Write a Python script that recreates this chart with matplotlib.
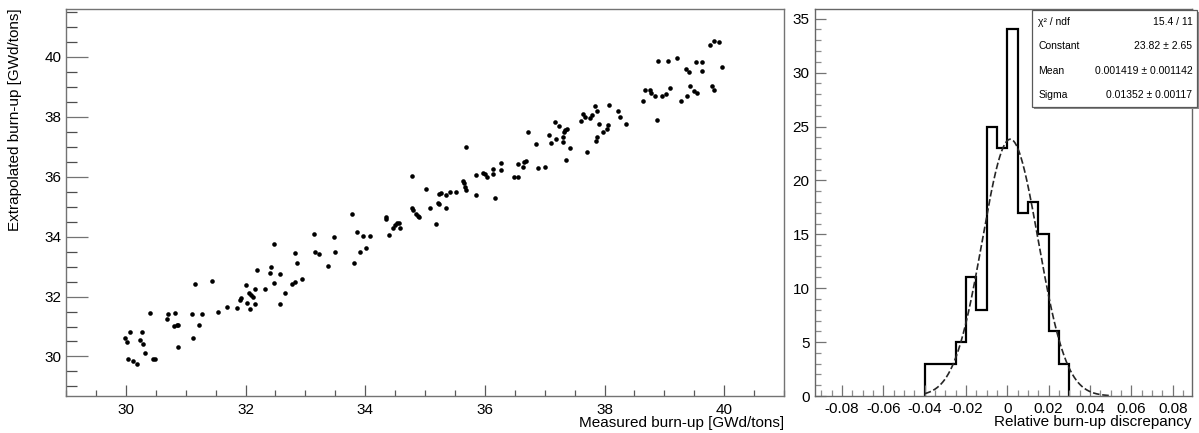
import numpy as np
import matplotlib
matplotlib.use("Agg")
import matplotlib.pyplot as plt
from matplotlib.ticker import MultipleLocator, FixedLocator
from matplotlib.patches import Rectangle

plt.rcParams['font.family'] = ['Liberation Sans', 'DejaVu Sans']

# ---------------- data ----------------
measured = [29.99, 30.02, 30.07, 30.04, 30.12, 30.19, 30.23, 30.27, 30.28, 30.32,
            30.45, 30.49, 30.41, 30.69, 30.70, 30.83, 30.80, 30.85, 30.88, 30.87,
            31.11, 31.12, 31.15, 31.22, 31.28, 31.44, 31.54, 31.69, 31.86, 31.91,
            31.93, 32.01, 32.03, 32.07, 32.06, 32.10, 32.12, 32.16, 32.16, 32.20,
            32.33, 32.41, 32.42, 32.48, 32.48, 32.57, 32.57, 32.66, 32.77, 32.83,
            32.82, 32.86, 32.94, 33.14, 33.16, 33.23, 33.38, 33.48, 33.49, 33.78,
            33.82, 33.86, 33.91, 33.97, 34.01, 34.08, 34.34, 34.34, 34.39, 34.47,
            34.50, 34.54, 34.57, 34.59, 34.78, 34.78, 34.80, 34.85, 34.88, 34.90,
            35.02, 35.09, 35.19, 35.22, 35.24, 35.24, 35.27, 35.35, 35.35, 35.41,
            35.51, 35.64, 35.66, 35.67, 35.68, 35.69, 35.85, 35.85, 35.97, 36.00,
            36.03, 36.14, 36.14, 36.17, 36.27, 36.27, 36.49, 36.56, 36.56, 36.63,
            36.66, 36.69, 36.72, 36.89, 37.00, 36.86, 37.07, 37.11, 37.18, 37.19,
            37.24, 37.30, 37.30, 37.32, 37.34, 37.37, 37.36, 37.42, 37.60, 37.64,
            37.67, 37.75, 37.79, 37.71, 37.84, 37.86, 37.88, 37.88, 37.91, 37.97,
            38.04, 38.06, 38.07, 38.23, 38.26, 38.36, 38.64, 38.67, 38.76, 38.77,
            38.85, 38.88, 38.89, 38.96, 39.02, 39.06, 39.09, 39.22, 39.28, 39.37,
            39.41, 39.38, 39.43, 39.49, 39.54, 39.53, 39.63, 39.63, 39.80, 39.83,
            39.76, 39.83, 39.92, 39.96]
extrapolated = [30.63, 30.47, 30.81, 29.93, 29.85, 29.76, 30.55, 30.82, 30.41, 30.13,
                29.91, 29.90, 31.45, 31.26, 31.42, 31.45, 31.02, 31.04, 31.06, 30.32,
                31.41, 30.61, 32.42, 31.05, 31.42, 32.51, 31.48, 31.66, 31.61, 31.89,
                31.95, 32.39, 31.80, 31.60, 32.11, 32.06, 32.00, 32.25, 31.76, 32.89,
                32.26, 32.78, 32.97, 32.45, 33.77, 32.75, 31.75, 32.11, 32.43, 32.48,
                33.47, 33.11, 32.60, 34.08, 33.48, 33.43, 33.03, 33.98, 33.48, 34.77,
                33.11, 34.17, 33.48, 34.02, 33.61, 34.02, 34.65, 34.59, 34.05, 34.28,
                34.39, 34.47, 34.45, 34.28, 36.01, 34.95, 34.89, 34.76, 34.69, 34.65,
                35.60, 34.97, 34.41, 35.11, 35.08, 35.42, 35.47, 34.97, 35.39, 35.48,
                35.48, 35.87, 35.80, 35.65, 35.56, 36.99, 35.38, 36.05, 36.13, 36.08,
                36.00, 36.27, 36.09, 35.29, 36.45, 36.21, 36.00, 35.98, 36.41, 36.31,
                36.48, 36.53, 37.48, 36.28, 36.32, 37.09, 37.38, 37.11, 37.82, 37.25,
                37.70, 37.33, 37.17, 37.48, 37.56, 37.60, 36.55, 36.95, 37.85, 38.11,
                37.98, 37.96, 38.06, 36.81, 38.36, 37.18, 38.19, 37.33, 37.77, 37.49,
                37.58, 37.72, 38.41, 38.20, 37.99, 37.77, 38.52, 38.91, 38.89, 38.78,
                38.71, 37.91, 39.88, 38.69, 38.76, 39.85, 38.97, 39.98, 38.53, 39.60,
                39.50, 38.69, 39.02, 38.86, 38.80, 39.83, 39.83, 39.52, 39.02, 38.91,
                40.41, 40.52, 40.50, 39.67]

bin_edges = [-0.040, -0.035, -0.030, -0.025, -0.020, -0.015, -0.010, -0.005,
             0.000, 0.005, 0.010, 0.015, 0.020, 0.025, 0.030]
bin_counts = [3, 3, 3, 5, 11, 8, 25, 23, 34, 17, 18, 15, 6, 3]

fit_constant = 23.82
fit_mean = 0.001419
fit_sigma = 0.01352
fit_range = (-0.040, 0.050)

stats_names = ["χ² / ndf", "Constant", "Mean", "Sigma"]
stats_values = ["15.4 / 11", "23.82 ± 2.65", "0.001419 ± 0.001142", "0.01352 ± 0.00117"]

xlabel_left = "Measured burn-up [GWd/tons]"
ylabel_left = "Extrapolated burn-up [GWd/tons]"
xlabel_right = "Relative burn-up discrepancy"

# ---------------- figure ----------------
W, H = 1199, 433
fig = plt.figure(figsize=(W / 100, H / 100), dpi=100)

def fx(px):
    return px / W

def fy(py):
    return 1 - py / H

# left scatter axes
axL = fig.add_axes([fx(66), fy(396), fx(784) - fx(66), fy(9) - fy(396)])
axL.plot(measured, extrapolated, 'o', color='black', ms=3.3, mec='black', mew=0)
axL.set_xlim(29.0, 41.0)
axL.set_ylim(28.68, 41.6)
axL.xaxis.set_major_locator(MultipleLocator(2))
axL.xaxis.set_minor_locator(MultipleLocator(0.5))
axL.yaxis.set_major_locator(MultipleLocator(2))
axL.yaxis.set_minor_locator(MultipleLocator(0.5))
axL.tick_params(axis='x', which='major', direction='in', length=8, width=0.9,
                color='0.35', labelsize=11, pad=5, top=False)
axL.tick_params(axis='x', which='minor', direction='in', length=4, width=0.9,
                color='0.35', top=False)
axL.tick_params(axis='y', which='major', direction='in', length=16, width=0.9,
                color='0.45', labelsize=11, pad=3, right=False)
axL.tick_params(axis='y', which='minor', direction='in', length=8, width=0.9,
                color='0.3', right=False)
for s in axL.spines.values():
    s.set_color('0.45')
    s.set_linewidth(1.0)

fig.text(fx(15), fy(8), ylabel_left, rotation=90, ha='center', va='top', fontsize=11)
fig.text(fx(784), fy(423), xlabel_left, ha='right', va='center', fontsize=11)

# right histogram axes
axR = fig.add_axes([fx(815), fy(396), fx(1192) - fx(815), fy(9) - fy(396)])
axR.stairs(bin_counts, bin_edges, color='black', lw=1.6, baseline=0)
xf = np.linspace(fit_range[0], fit_range[1], 400)
yf = fit_constant * np.exp(-0.5 * ((xf - fit_mean) / fit_sigma) ** 2)
axR.plot(xf, yf, color='0.15', lw=1.2, linestyle=(0, (4, 1.6)))
axR.set_xlim(-0.093, 0.0893)
axR.set_ylim(0, 35.9)
axR.xaxis.set_major_locator(FixedLocator([-0.08, -0.06, -0.04, -0.02, 0, 0.02, 0.04, 0.06, 0.08]))
axR.xaxis.set_minor_locator(MultipleLocator(0.005))
axR.yaxis.set_major_locator(MultipleLocator(5))
axR.yaxis.set_minor_locator(MultipleLocator(1))
axR.set_xticklabels(['-0.08', '-0.06', '-0.04', '-0.02', '0', '0.02', '0.04', '0.06', '0.08'])
axR.tick_params(axis='x', which='major', direction='in', length=8, width=0.9,
                color='0.45', labelsize=11, pad=4, top=False)
axR.tick_params(axis='x', which='minor', direction='in', length=4, width=0.9,
                color='0.55', top=False)
axR.tick_params(axis='y', which='major', direction='in', length=8, width=0.9,
                color='0.45', labelsize=11, pad=4, right=False)
axR.tick_params(axis='y', which='minor', direction='in', length=4, width=0.9,
                color='0.55', right=False)
for s in axR.spines.values():
    s.set_color('0.4')
    s.set_linewidth(1.0)

fig.text(fx(1192), fy(422), xlabel_right, ha='right', va='center', fontsize=11)

# stats box
bx0, bx1, by0, by1 = 1031.5, 1196.5, 10, 107
shadow = Rectangle((fx(bx0 + 2), fy(by1 + 2)), fx(bx1) - fx(bx0), fy(by0) - fy(by1),
                   transform=fig.transFigure, facecolor='0.55', edgecolor='none', zorder=5)
box = Rectangle((fx(bx0), fy(by1)), fx(bx1) - fx(bx0), fy(by0) - fy(by1),
                transform=fig.transFigure, facecolor='white', edgecolor='0.35', lw=0.9, zorder=6)
fig.add_artist(shadow)
fig.add_artist(box)
row_h = (by1 - by0) / len(stats_names)
for i, (nm, val) in enumerate(zip(stats_names, stats_values)):
    yc = by0 + row_h * (i + 0.5)
    fig.text(fx(bx0 + 7), fy(yc), nm, ha='left', va='center', fontsize=7.5, zorder=7)
    fig.text(fx(bx1 - 4), fy(yc), val, ha='right', va='center', fontsize=7.5, zorder=7)

fig.savefig("out.png", dpi=100)
